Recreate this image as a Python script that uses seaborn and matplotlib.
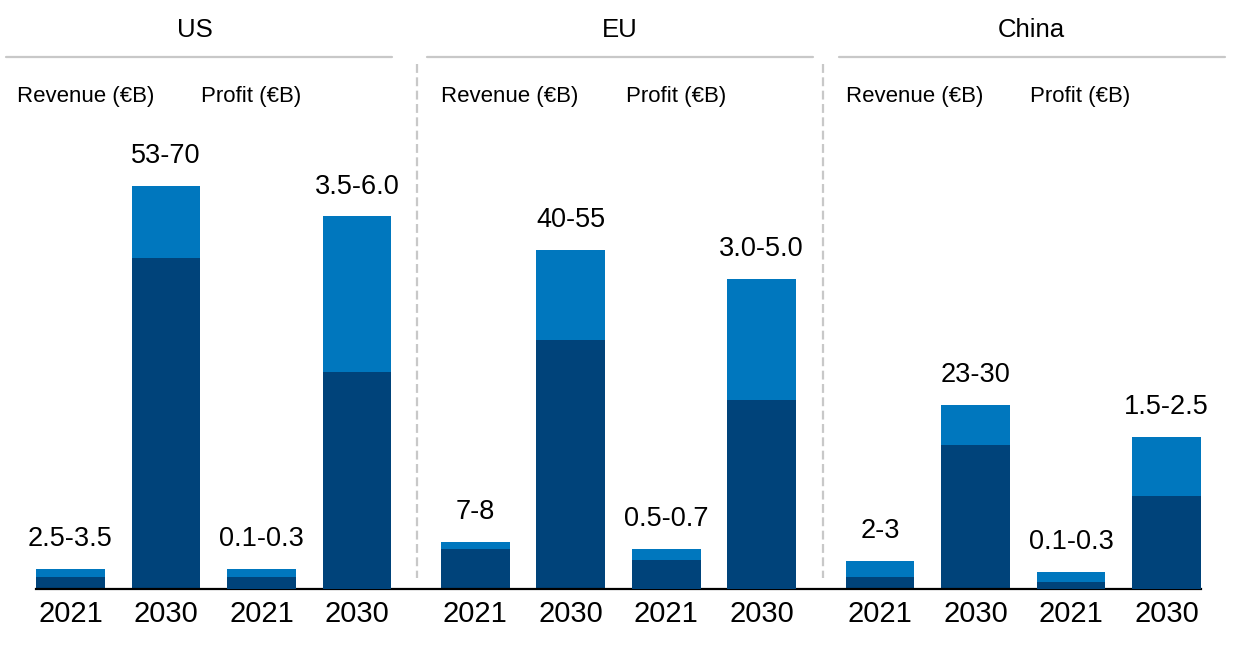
import numpy as np
import pandas as pd
import matplotlib
matplotlib.use("Agg")
import matplotlib.pyplot as plt
from matplotlib.lines import Line2D
import seaborn as sns

# ---------------- data ----------------
regions = ["US", "EU", "China"]
years = ["2021", "2030"]
# Revenue (EUR B) – lower / upper ends of range
rev_low = [1.9, 54.2, 6.5, 40.7, 1.9, 23.5]
rev_high = [3.2, 66.0, 7.6, 55.5, 4.5, 30.1]
rev_labels = ["2.5-3.5", "53-70", "7-8", "40-55", "2-3", "23-30"]
# Profit (EUR B)
prof_low = [0.19, 3.5, 0.46, 3.04, 0.10, 1.49]
prof_high = [0.31, 6.0, 0.64, 4.99, 0.27, 2.44]
prof_labels = ["0.1-0.3", "3.5-6.0", "0.5-0.7", "3.0-5.0", "0.1-0.3", "1.5-2.5"]

DARK = "#00437A"
LIGHT = "#0077BE"
GREY = "#c8c8c8"

W, H = 1236, 652
sns.set_theme(style="white")
plt.rcParams["font.family"] = ["Liberation Sans", "DejaVu Sans"]

fig = plt.figure(figsize=(W / 100, H / 100), dpi=100)

def fx(x):
    return x / W

def fy(y):
    return 1 - y / H

# positions
group_gap = 4.24
rev_pos, prof_pos, tick_pos, tick_lab = [], [], [], []
for g in range(len(regions)):
    base = g * group_gap
    for j in range(2):
        rev_pos.append(base + j)
        prof_pos.append(base + 2 + j)
for g in range(len(regions)):
    base = g * group_gap
    for j in range(4):
        tick_pos.append(base + j)
        tick_lab.append(years[j % 2])

rev_df = pd.DataFrame({"pos": rev_pos, "low": rev_low, "high": rev_high, "label": rev_labels})
prof_df = pd.DataFrame({"pos": prof_pos, "low": prof_low, "high": prof_high, "label": prof_labels})

left_px, right_px, base_px, top_px = 36, 1201, 588.5, 100
ax = fig.add_axes([fx(left_px), fy(base_px), (right_px - left_px) / W, (base_px - top_px) / H])
ax2 = ax.twinx()

bw = 0.72
sns.barplot(data=rev_df, x="pos", y="high", native_scale=True, width=bw, color=LIGHT,
            saturation=1, errorbar=None, ax=ax, linewidth=0)
sns.barplot(data=rev_df, x="pos", y="low", native_scale=True, width=bw, color=DARK,
            saturation=1, errorbar=None, ax=ax, linewidth=0)
sns.barplot(data=prof_df, x="pos", y="high", native_scale=True, width=bw, color=LIGHT,
            saturation=1, errorbar=None, ax=ax2, linewidth=0)
sns.barplot(data=prof_df, x="pos", y="low", native_scale=True, width=bw, color=DARK,
            saturation=1, errorbar=None, ax=ax2, linewidth=0)

rev_scale = 6.1   # px per EUR B
prof_scale = 62.0
ax.set_ylim(0, (base_px - top_px) / rev_scale)
ax2.set_ylim(0, (base_px - top_px) / prof_scale)
xl = (-(70.5 - left_px) / 95.5, 2 * group_gap + 3 + (right_px - 1166.5) / 95.5)
ax.set_xlim(*xl)
ax2.set_xlim(*xl)

for a in (ax, ax2):
    a.set_xlabel("")
    a.set_ylabel("")
    a.set_yticks([])
    for s in ["top", "left", "right"]:
        a.spines[s].set_visible(False)
    a.spines["bottom"].set_visible(False)
    a.patch.set_alpha(0)
ax.spines["bottom"].set_visible(True)
ax.spines["bottom"].set_color("black")
ax.spines["bottom"].set_linewidth(1.6)

ax.set_xticks(tick_pos)
ax.set_xticklabels(tick_lab, fontsize=21, color="black")
ax.tick_params(axis="x", length=0, pad=8.5)
ax2.tick_params(axis="x", length=0)

for _, r in rev_df.iterrows():
    ax.annotate(r["label"], (r["pos"], r["high"]), xytext=(0, 16.5), textcoords="offset points",
                ha="center", va="baseline", fontsize=19.5, color="black")
for _, r in prof_df.iterrows():
    ax2.annotate(r["label"], (r["pos"], r["high"]), xytext=(0, 16.5), textcoords="offset points",
                 ha="center", va="baseline", fontsize=19.5, color="black")

# headers
title_x = [195, 620, 1031]
line_span = [(6, 392), (427, 813), (839, 1225)]
rev_lab_x = [17, 441, 846]
prof_lab_x = [201, 626, 1030]
for g, name in enumerate(regions):
    fig.text(fx(title_x[g]), fy(36.7), name, ha="center", va="baseline", fontsize=18.5, color="black")
    x0, x1 = line_span[g]
    fig.add_artist(Line2D([fx(x0), fx(x1)], [fy(57.3), fy(57.3)], transform=fig.transFigure,
                          color=GREY, lw=1.6))
    fig.text(fx(rev_lab_x[g]), fy(101.7), "Revenue (€B)", ha="left", va="baseline", fontsize=16, color="black")
    fig.text(fx(prof_lab_x[g]), fy(101.7), "Profit (€B)", ha="left", va="baseline", fontsize=16, color="black")

for xs in (417, 822.5):
    fig.add_artist(Line2D([fx(xs), fx(xs)], [fy(64), fy(578)], transform=fig.transFigure,
                          color=GREY, lw=1.6, linestyle=(0, (4, 2))))

fig.savefig("out.png", dpi=100, facecolor="white")
